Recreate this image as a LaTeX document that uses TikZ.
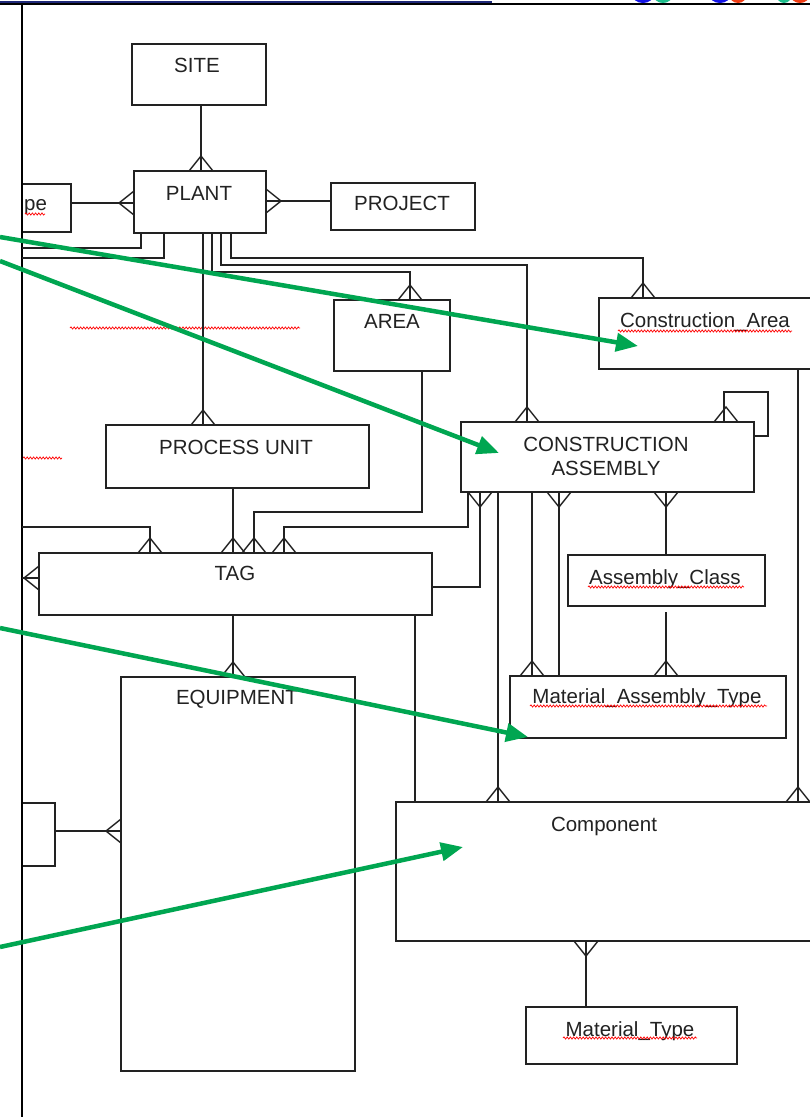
\documentclass[tikz,border=0pt]{standalone}
\usepackage{fontspec}
\setmainfont{Liberation Sans}
\usetikzlibrary{arrows.meta,decorations.pathmorphing}
\definecolor{agreen}{RGB}{0,166,81}
\definecolor{ink}{RGB}{34,34,34}
\definecolor{navy}{RGB}{30,40,120}
\definecolor{lblue}{RGB}{20,20,230}
\definecolor{lgreen}{RGB}{30,190,140}
\definecolor{lred}{RGB}{240,60,20}
\begin{document}
\begin{tikzpicture}[x=1pt,y=-1pt,
 ebox/.style={draw=ink, line width=1.5pt, inner sep=0pt, outer sep=0pt, anchor=north west},
 lbl/.style={text=ink, font=\fontsize{20.5}{24}\selectfont, inner sep=0pt, anchor=base},
 conn/.style={draw=ink, line width=1.4pt},
 squig/.style={draw=red, line width=0.7pt, decorate, decoration={snake, amplitude=1.1pt, segment length=3.2pt}},
 garrow/.style={draw=agreen, line width=4.5pt, -{Triangle[length=22pt,width=18pt]}},
 cft/.pic={\draw[conn] (-12,0) -- (0,-15) -- (12,0);},
 cfb/.pic={\draw[conn] (-12,0) -- (0,15) -- (12,0);},
 cfl/.pic={\draw[conn] (0,-12) -- (-15,0) -- (0,12);},
 cfr/.pic={\draw[conn] (0,-12) -- (15,0) -- (0,12);}
]
\useasboundingbox (0,0) rectangle (810,1117);
\clip (0,0) rectangle (810,1117);
\fill[white] (0,0) rectangle (810,1117);

% top decorations
\fill[lblue] (643,-6) ellipse (11 and 9);
\fill[lgreen] (663,-6) ellipse (10 and 9);
\fill[lblue] (720,-6) ellipse (11 and 9);
\fill[lred] (738,-6) ellipse (9 and 9);
\fill[lgreen] (784,-6) ellipse (8 and 9);
\fill[lred] (800,-6) ellipse (10 and 9);
\fill[white] (0,5) rectangle (810,12);
\draw[navy, line width=2pt] (0,2) -- (492,2);
\draw[black, line width=1.2pt] (0,4) -- (810,4);

% boxes
\node[ebox, minimum width=134pt, minimum height=61pt] (site) at (132,44) {};
\node[ebox, minimum width=132pt, minimum height=62pt] (plant) at (134,171) {};
\node[ebox, minimum width=144pt, minimum height=47pt] (project) at (331,183) {};
\node[ebox, minimum width=49pt, minimum height=48pt] (typebox) at (22,184) {};
\node[ebox, minimum width=116pt, minimum height=71pt] (area) at (334,300) {};
\node[ebox, minimum width=221pt, minimum height=71pt] (carea) at (599,298) {};
\node[ebox, minimum width=263pt, minimum height=63pt] (procunit) at (106,425) {};
\node[ebox, minimum width=293pt, minimum height=70pt] (ca) at (461,422) {};
\node[ebox, minimum width=393pt, minimum height=62pt] (tag) at (39,553) {};
\node[ebox, minimum width=197pt, minimum height=51pt] (asmclass) at (568,555) {};
\node[ebox, minimum width=276pt, minimum height=62pt] (mat) at (510,676) {};
\node[ebox, minimum width=234pt, minimum height=394pt] (equip) at (121,677) {};
\node[ebox, minimum width=33pt, minimum height=63pt] (smallbox) at (22,803) {};
\node[ebox, minimum width=424pt, minimum height=139pt] (component) at (396,802) {};
\node[ebox, minimum width=211pt, minimum height=57pt] (mattype) at (526,1007) {};

% labels
\node[lbl] (siteL) at (197,72) {SITE};
\node[lbl] (plantL) at (199,200) {PLANT};
\node[lbl] (projectL) at (402,210) {PROJECT};
\node[lbl, anchor=base west] (typeL) at (24,210) {pe};
\draw[squig] (25,214) -- (45,214);
\node[lbl] (areaL) at (392,328) {AREA};
\node[lbl] (careaL) at (705,327) {Construction\_Area};
\node[lbl] (caL1) at (606,451) {CONSTRUCTION};
\node[lbl] (caL2) at (606,475) {ASSEMBLY};
\node[lbl] (procunitL) at (236,454) {PROCESS UNIT};
\node[lbl] (tagL) at (235,580) {TAG};
\node[lbl] (equipL) at (237,704) {EQUIPMENT};
\node[lbl] (asmclassL) at (665,584) {Assembly\_Class};
\node[lbl] (matL) at (647,703) {Material\_Assembly\_Type};
\node[lbl] (componentL) at (604,831) {Component};
\node[lbl] (mattypeL) at (630,1036) {Material\_Type};

% spell-check squiggles
\draw[squig] (618,331) -- (792,331);
\draw[squig] (588,587) -- (744,587);
\draw[squig] (530,706) -- (767,706);
\draw[squig] (563,1038) -- (697,1038);
\draw[squig] (70,328) -- (300,328);
\draw[squig] (23,458) -- (62,458);

% left margin line
\draw[black, line width=1.4pt] (22,4) -- (22,1117);

% connectors
\draw[conn] (site.south -| 201,0) -- (plant.north -| 201,0);
\pic at (plant.north -| 201,0) {cft};
\draw[conn] (typebox.east |- 0,203) -- (plant.west |- 0,203);
\pic at (plant.west |- 0,203) {cfl};
\draw[conn] (plant.east |- 0,201) -- (project.west |- 0,201);
\pic at (plant.east |- 0,201) {cfr};
\draw[conn] (plant.south -| 141,0) |- (22,248);
\draw[conn] (plant.south -| 164,0) |- (22,258);
\draw[conn] (plant.south -| 203,0) -- (procunit.north -| 203,0);
\pic at (procunit.north -| 203,0) {cft};
\draw[conn] (plant.south -| 212,0) |- (410,272) -- (area.north -| 410,0);
\pic at (area.north -| 410,0) {cft};
\draw[conn] (plant.south -| 221,0) |- (527,265) -- (ca.north -| 527,0);
\pic at (ca.north -| 527,0) {cft};
\draw[conn] (plant.south -| 231,0) |- (643,258) -- (carea.north -| 643,0);
\pic at (carea.north -| 643,0) {cft};
\draw[conn] (ca.north -| 724,0) |- (768,392) |- (ca.east |- 0,436);
\pic at (ca.north -| 726,0) {cft};
\draw[conn] (carea.south -| 798,0) -- (component.north -| 798,0);
\pic at (component.north -| 798,0) {cft};
\draw[conn] (area.south -| 422,0) |- (254,512) -- (tag.north -| 254,0);
\pic at (tag.north -| 254,0) {cft};
\draw[conn] (procunit.south -| 233,0) -- (tag.north -| 233,0);
\pic at (tag.north -| 233,0) {cft};
\draw[conn] (22,527) -| (tag.north -| 150,0);
\pic at (tag.north -| 150,0) {cft};
\draw[conn] (22,578) -- (tag.west |- 0,578);
\pic at (tag.west |- 0,578) {cfl};
\draw[conn] (ca.south -| 468,0) |- (284,527) -- (tag.north -| 284,0);
\pic at (tag.north -| 284,0) {cft};
\draw[conn] (tag.east |- 0,587) -| (ca.south -| 480,0);
\pic at (ca.south -| 480,0) {cfb};
\draw[conn] (ca.south -| 498,0) -- (component.north -| 498,0);
\pic at (component.north -| 498,0) {cft};
\draw[conn] (ca.south -| 532,0) -- (mat.north -| 532,0);
\pic at (mat.north -| 532,0) {cft};
\draw[conn] (ca.south -| 559,0) -- (mat.north -| 559,0);
\pic at (ca.south -| 559,0) {cfb};
\draw[conn] (ca.south -| 666,0) -- (asmclass.north -| 666,0);
\pic at (ca.south -| 666,0) {cfb};
\draw[conn] (666,612) -- (mat.north -| 666,0);
\pic at (mat.north -| 666,0) {cft};
\draw[conn] (tag.south -| 233,0) -- (equip.north -| 233,0);
\pic at (equip.north -| 233,0) {cft};
\draw[conn] (tag.south -| 415,0) -- (component.north -| 415,0);
\draw[conn] (smallbox.east |- 0,831) -- (equip.west |- 0,831);
\pic at (equip.west |- 0,831) {cfl};
\draw[conn] (component.south -| 586,0) -- (mattype.north -| 586,0);
\pic at (component.south -| 586,0) {cfb};

% green arrows
\coordinate (g1) at (0,237);
\coordinate (g2) at (0,261);
\coordinate (g3) at (0,628);
\coordinate (g4) at (0,947);
\coordinate (t1) at (638,346);
\coordinate (t2) at (499,453);
\coordinate (t3) at (528,737);
\coordinate (t4) at (463,847);
\draw[garrow] (g1) -- (t1);
\draw[garrow] (g2) -- (t2);
\draw[garrow] (g3) -- (t3);
\draw[garrow] (g4) -- (t4);
\end{tikzpicture}
\end{document}
